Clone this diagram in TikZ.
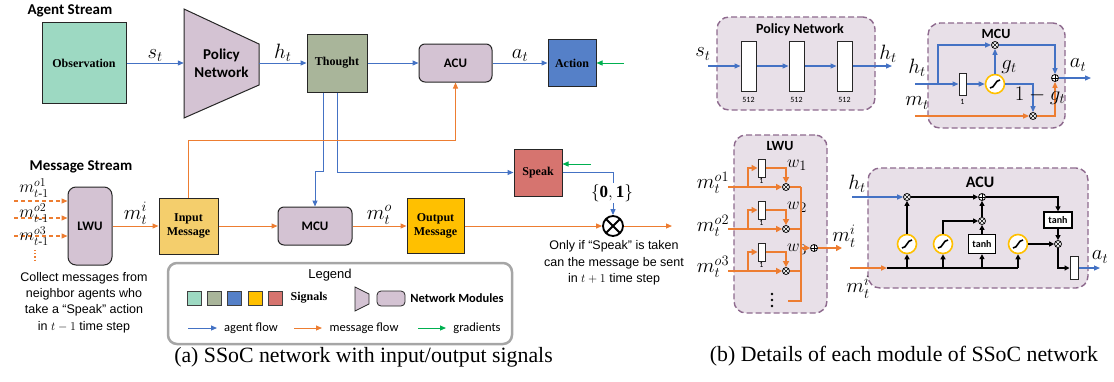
\documentclass[tikz,border=0pt]{standalone}
\usepackage{amsmath}
\usepackage{fontspec}
\setmainfont{Liberation Serif}
\newfontfamily\calib{Carlito}
\newfontfamily\ari{Liberation Sans}
\usetikzlibrary{arrows.meta,calc}
\newcommand\fsz[2]{\fontsize{#1}{#2}\selectfont}
\definecolor{mint}{HTML}{9DD9C2}
\definecolor{thc}{HTML}{A9B59A}
\definecolor{actc}{HTML}{5580C8}
\definecolor{inc}{HTML}{F4CE6C}
\definecolor{outc}{HTML}{FFC000}
\definecolor{spc}{HTML}{D6746F}
\definecolor{modc}{HTML}{D4C3D3}
\definecolor{blu}{HTML}{4472C4}
\definecolor{org}{HTML}{ED7D31}
\definecolor{grn}{HTML}{00B050}
\definecolor{detf}{HTML}{E8E0E8}
\definecolor{detb}{HTML}{8E6A8E}
\definecolor{ylw}{HTML}{FFC000}
\definecolor{legb}{HTML}{A6A6A6}
\begin{document}
\begin{tikzpicture}[x=1pt,y=-1pt,
 af/.style={draw=blu,line width=1pt,-{Triangle[length=6pt,width=5pt]}},
 mf/.style={draw=org,line width=1pt,-{Triangle[length=6pt,width=5pt]}},
 gf/.style={draw=grn,line width=1pt,-{Triangle[length=6pt,width=5pt]}},
 dbf/.style={draw=blu,line width=1.2pt,-{Triangle[length=6pt,width=5pt]}},
 dmf/.style={draw=org,line width=1.8pt,-{Triangle[length=6pt,width=6pt]}},
 kf/.style={draw=black,line width=1.4pt,-{Triangle[length=5pt,width=5pt]}},
 sigbox/.style={draw=black!85,line width=1pt,inner sep=0,align=center,font=\fsz{12}{14}\bfseries},
 modbox/.style={draw=black!85,line width=1pt,rounded corners=6pt,fill=modc,inner sep=0,font=\calib\fsz{13}{15}\bfseries},
 lab/.style={font=\fsz{20}{22},inner sep=1pt},
 det/.style={draw=detb,line width=1.4pt,dash pattern=on 6pt off 3pt,fill=detf,rounded corners=12pt,inner sep=0},
 ttl/.style={font=\calib\fsz{14}{16}\bfseries,inner sep=0},
 lay/.style={draw=black!85,line width=1pt,fill=white,inner sep=0},
 tiny/.style={font=\calib\fsz{8}{9},inner sep=0},
 otim/.style={circle,draw,line width=.8pt,fill=white,minimum size=7pt,inner sep=0,
   path picture={\draw[line width=.6pt] (path picture bounding box.north west)--(path picture bounding box.south east) (path picture bounding box.north east)--(path picture bounding box.south west);}},
 oplu/.style={circle,draw,line width=.8pt,fill=white,minimum size=7pt,inner sep=0,
   path picture={\draw[line width=.6pt] (path picture bounding box.north)--(path picture bounding box.south) (path picture bounding box.east)--(path picture bounding box.west);}},
 sigc/.style={circle,draw=ylw,line width=1.6pt,fill=white,minimum size=19pt,inner sep=0,
   path picture={\draw[line width=1.6pt,black] ($(path picture bounding box.center)+(-5,4)$) .. controls ($(path picture bounding box.center)+(0,4)$) and ($(path picture bounding box.center)+(0,-4)$) .. ($(path picture bounding box.center)+(5,-4)$);}},
 tanhb/.style={draw=black,line width=1.3pt,fill=white,inner sep=0,font=\calib\fsz{10}{11}\bfseries},
 legsq/.style={draw=black!75,line width=.8pt,minimum width=14,minimum height=14,inner sep=0},
 note/.style={align=center,font=\ari\fsz{12.5}{16.3},inner sep=0},
 legtxt/.style={font=\calib\fsz{12.5}{14},inner sep=0}
]
\useasboundingbox (0,0) rectangle (1114,381);

% ================= (a) =================
\node[ttl,font=\calib\fsz{15}{17}\bfseries] at (70,11) {Agent Stream};
\node[ttl,font=\calib\fsz{15}{17}\bfseries] at (81,167) {Message Stream};

\node[sigbox,fill=mint,minimum width=84,minimum height=81] (obs) at (84,63) {Observation};
\filldraw[fill=modc,draw=black!85,line width=1pt] (184,9) -- (259,44) -- (259,85) -- (184,118) -- cycle;
\node[inner sep=0,minimum width=75,minimum height=41,align=center,font=\calib\fsz{15}{18}\bfseries] (pn) at (221.5,63) {Policy\\Network};
\node[sigbox,fill=thc,minimum width=60,minimum height=58] (th) at (337,63) {Thought};
\node[modbox,minimum width=73,minimum height=38] (acu) at (455.5,63) {ACU};
\node[sigbox,fill=actc,minimum width=48,minimum height=47] (act) at (572,63) {Action};
\node[sigbox,fill=spc,minimum width=48,minimum height=47] (sp) at (538,172.5) {Speak};

\node[modbox,rounded corners=8pt,minimum width=44,minimum height=78] (lwu) at (90,226) {LWU};
\node[sigbox,fill=inc,minimum width=59,minimum height=56] (im) at (188.5,226) {Input\\Message};
\node[modbox,minimum width=74,minimum height=38] (mcu) at (315,226) {MCU};
\node[sigbox,fill=outc,minimum width=57,minimum height=55] (om) at (435.5,226) {Output\\Message};
\node[circle,draw,line width=1.8pt,minimum size=20pt,inner sep=0,
   path picture={\draw[line width=1.8pt] (path picture bounding box.north west)--(path picture bounding box.south east) (path picture bounding box.north east)--(path picture bounding box.south west);}] (ot) at (613,226) {};

\draw[af] (obs) -- node[lab,above=0pt] {$s_t$} (pn);
\draw[af] (pn) -- node[lab,above=0pt] {$h_t$} (th);
\draw[af] (th) -- (acu);
\draw[af] (acu) -- node[lab,above=0pt] {$a_t$} (act);
\coordinate (g1) at (624,63);
\draw[gf] (g1) -- (act);

\draw[af] ([xshift=-14pt]th.south) |- ($(mcu.north)+(0,-35)$) -- (mcu.north);
\draw[af] (th.south) |- (sp.west);
\draw[af] (sp.east) -| (ot.north);
\node[fill=white,inner sep=1pt,font=\fsz{17}{19}] at (612,193) {$\{\mathbf{0},\mathbf{1}\}$};
\coordinate (g2) at (591,164);
\draw[gf] (g2) -- (g2 -| sp.east);

\draw[mf] (im.north) -- ++(0,-57) -| (acu.south);
\draw[mf] (lwu) -- node[lab,above=0pt] {$m_t^i$} (im);
\draw[mf] (im) -- (mcu);
\draw[mf] (mcu) -- node[lab,above=0pt] {$m_t^o$} (om);
\draw[mf] (om) -- (ot);
\coordinate (oend) at (672,226);
\draw[mf] (ot) -- (oend);

\foreach \i/\y/\ly in {1/201/188,2/218/213,3/236/236}{
  \coordinate (din\i) at (14,\y);
  \draw[mf,line width=1.2pt,dash pattern=on 4pt off 3pt] (din\i) -- (din\i -| lwu.west);
  \node[font=\fsz{17}{19},inner sep=0] at (34,\ly) {$m^{o\i}_{t\text{-}1}$};
}
\draw[org,line width=1.2pt,dotted] (35,250) -- (35,261);

\node[note] at (84,302.5) {Collect messages from\\neighbor agents who\\take a “Speak” action\\in $t-1$ time step};
\node[note] at (614,263) {Only if “Speak” is taken\\can the message be sent\\in $t+1$ time step};

% legend
\node[draw=legb,line width=2.5pt,rounded corners=9pt,minimum width=344,minimum height=81,inner sep=0] (leg) at (340,303.5) {};
\node[font=\ari\fsz{13}{15},inner sep=0] at (330,275) {Legend};
\foreach \x/\c in {194/mint,214/thc,234.5/actc,255/outc,275/spc}{
  \node[legsq,fill=\c] at (\x,298) {};
}
\node[font=\fsz{12}{14}\bfseries,inner sep=0] at (309,298) {Signals};
\filldraw[fill=modc,draw=black!85,line width=.8pt] (355,287) -- (369,294) -- (369,304) -- (355,311) -- cycle;
\node[draw=black!85,line width=.8pt,fill=modc,rounded corners=4pt,minimum width=28,minimum height=15,inner sep=0] at (391,298.5) {};
\node[font=\calib\fsz{12.5}{14}\bfseries,inner sep=0] at (457,298) {Network Modules};
\coordinate (la1) at (188,328); \coordinate (la2) at (217,328);
\coordinate (lb1) at (294,328); \coordinate (lb2) at (322,328);
\coordinate (lc1) at (418,328); \coordinate (lc2) at (446,328);
\draw[af] (la1) -- (la2);
\draw[mf] (lb1) -- (lb2);
\draw[gf] (lc1) -- (lc2);
\node[legtxt] at (251,328) {agent flow};
\node[legtxt] at (364,328) {message flow};
\node[legtxt] at (477,328) {gradients};

\node[font=\fsz{21.8}{24},inner sep=0] at (363.5,357) {(a) SSoC network with input/output signals};

% ================= (b) =================
% Policy network detail
\node[det,minimum width=158,minimum height=93] (pnd) at (796,63.5) {};
\node[ttl] at (800,30) {Policy Network};
\foreach \i/\x in {1/748.5,2/796.5,3/844.5}{
  \node[lay,minimum width=15,minimum height=50] (L\i) at (\x,66) {};
  \node[tiny] at (\x,100) {512};
}
\coordinate (pin) at (708,66); \coordinate (pout) at (892,66);
\draw[dbf] (pin) -- (L1);
\draw[dbf] (L1) -- (L2);
\draw[dbf] (L2) -- (L3);
\draw[dbf] (L3) -- (pout);
\node[lab] at (703,54) {$s_t$};
\node[lab] at (888,54) {$h_t$};

% MCU detail
\node[det,minimum width=137,minimum height=105] (mcud) at (996.5,75.5) {};
\node[ttl] at (996,34) {MCU};
\node[otim] (mx1) at (995,45) {};
\node[sigc] (msg) at (995,84) {};
\node[lay,minimum width=7,minimum height=22] (mr) at (962.5,84) {};
\node[tiny] at (962.5,102) {1};
\node[oplu] (mp) at (1055,78) {};
\node[otim] (mx2) at (1033,116) {};
\coordinate (mhin) at (915,84); \coordinate (mbr) at (938,84);
\coordinate (mmin) at (915,116); \coordinate (mout) at (1091,78);
\draw[dbf] (mhin) -- (mr);
\draw[dbf] (mbr) |- (mx1);
\draw[dbf] (mr) -- (msg);
\draw[dbf] (msg) -- (mx1);
\draw[dbf] (mx1) -| (mp);
\draw[dbf] (msg) -| (mx2);
\draw[mf,line width=1.3pt] (mmin) -- (mx2);
\draw[mf,line width=1.3pt] (mx2) -| (mp);
\draw[dbf] (mp) -- (mout);
\node[lab] at (917,68) {$h_t$};
\node[lab] at (917,103) {$m_t$};
\node[lab] at (1009,67) {$g_t$};
\node[lab,font=\fsz{21}{23}] at (1040,96) {$1-g_t$};
\node[lab] at (1078,65) {$a_t$};

% LWU detail
\node[det,minimum width=93,minimum height=178] (lwud) at (780.5,224) {};
\node[ttl] at (780,146) {LWU};
\foreach \i/\y/\ly in {1/187/183,2/229/226,3/271/267}{
  \coordinate (lin\i) at (728,\y);
  \coordinate (lbr\i) at (748,\y);
  \coordinate (lj\i) at (801,\y);
  \node[otim] (lx\i) at (786,\y) {};
  \node[lay,minimum width=7,minimum height=18] (lr\i) at (761.5,\y-19) {};
  \node[tiny] at (761.5,\y-6) {1};
  \draw[dmf] (lin\i) -- (lx\i);
  \draw[dmf] (lbr\i) |- (lr\i);
  \draw[dmf] (lr\i) -| (lx\i);
  \draw[org,line width=1.8pt] (lx\i) -- (lj\i);
  \node[font=\fsz{19}{20},inner sep=0] at (797,\y-22) {$w_{\i}$};
  \node[lab] at (713,\ly) {$m_t^{o\i}$};
}
\coordinate (lbot) at (801,301); \coordinate (lbl) at (788,301);
\draw[org,line width=1.8pt] (lj1) -- (lbot) -- (lbl);
\node[oplu] (lp) at (814,248) {};
\coordinate (lv) at (801,248); \coordinate (lout) at (842,248);
\draw[dmf] (lv) -- (lp);
\draw[dmf] (lp) -- (lout);
\node[lab] at (844,236) {$m_t^i$};
\foreach \yy in {294,300,306}{ \fill (772,\yy) circle (1.3pt); }

% ACU detail
\node[det,minimum width=220,minimum height=120] (acud) at (978,228) {};
\node[ttl,font=\calib\fsz{16}{18}\bfseries] at (980,182) {ACU};
\node[otim] (ax1) at (907,197) {};
\node[oplu] (ap) at (982,197) {};
\node[otim] (ax2) at (982,221) {};
\node[tanhb,minimum width=28,minimum height=16] (at1) at (1058,220) {tanh};
\node[otim] (ax3) at (1058,244) {};
\node[sigc] (as1) at (907,244) {};
\node[sigc] (as2) at (943,244) {};
\node[tanhb,minimum width=27,minimum height=19] (at2) at (982,244) {tanh};
\node[sigc] (as3) at (1018,244) {};
\node[lay,minimum width=8,minimum height=23] (aor) at (1074,268) {};
\coordinate (ahin) at (852,197); \coordinate (amin) at (850,268);
\coordinate (ab0) at (887,268); \coordinate (ab1) at (907,268);
\coordinate (ab2) at (943,268); \coordinate (ab3) at (982,268);
\coordinate (ab4) at (1018,268); \coordinate (aout) at (1100,268);
\draw[dbf] (ahin) -- (ax1);
\draw[kf] (ax1) -- (ap);
\draw[kf] (ap) -| (at1);
\draw[kf] (at1) -- (ax3);
\draw[kf] (as1) -- (ax1);
\draw[kf] (as2) |- (ax2);
\draw[kf] (at2) -- (ax2);
\draw[kf] (ax2) -- (ap);
\draw[kf] (as3) -- (ax3);
\draw[kf] (ax3) |- (aor);
\draw[mf,line width=1.5pt] (amin) -- (ab0);
\draw[black,line width=1.4pt] (ab0) -- (ab4);
\draw[kf] (ab1) -- (as1);
\draw[kf] (ab2) -- (as2);
\draw[kf] (ab3) -- (at2);
\draw[kf] (ab4) -- (as3);
\draw[dbf] (aor) -- (aout);
\node[lab] at (857,184) {$h_t$};
\node[lab] at (858,287) {$m_t^i$};
\node[lab] at (1100,257) {$a_t$};

\node[font=\fsz{21.8}{24},inner sep=0] at (904,356) {(b) Details of each module of SSoC network};
\end{tikzpicture}
\end{document}
